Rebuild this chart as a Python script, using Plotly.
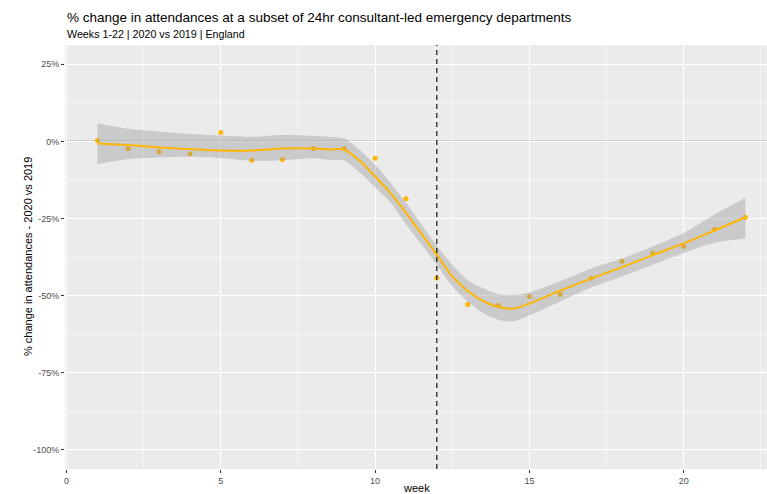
import plotly.graph_objects as go

# Weekly % change in attendances, 2020 vs 2019
weeks = list(range(1, 23))
pct_change = [0.3, -2.4, -3.4, -4.0, 2.9, -6.1, -5.9, -2.3, -2.3, -5.5, -18.6,
              -44.3, -52.9, -53.2, -50.3, -49.6, -44.4, -38.9, -36.2, -34.1, -28.5, -24.6]

# Smoothed trend with its confidence band
smooth_weeks = [1, 2, 3, 4, 5, 6, 7, 8, 8.5, 9, 9.5, 10, 10.5, 11,
                12, 12.5, 13, 13.5, 14, 14.5, 15, 16, 17, 18, 19, 20, 21, 22]
smooth_fit = [-0.7, -1.2, -2.0, -2.5, -3.0, -3.0, -2.3, -2.3, -2.6, -2.7, -6.3, -11.4, -16.8, -23.2,
              -36.8, -43.8, -48.5, -51.7, -53.7, -54.2, -52.6, -48.4, -44.5, -40.8, -36.9, -33.1, -28.9, -24.6]
smooth_upper = [5.9, 4.1, 3.2, 2.4, 1.9, 1.5, 2.1, 1.8, 1.5, 0.9, -2.8, -7.6, -13.4, -19.9,
                -33.8, -40.0, -45.0, -47.6, -49.5, -49.8, -49.0, -45.4, -41.2, -38.0, -34.0, -29.7, -23.7, -18.3]
smooth_lower = [-7.4, -5.7, -5.2, -5.0, -5.4, -6.3, -6.1, -5.5, -6.0, -6.2, -10.1, -14.9, -19.9, -26.9,
                -40.0, -47.0, -51.9, -55.7, -57.9, -58.3, -56.4, -51.9, -47.4, -43.8, -40.0, -36.2, -32.9, -31.5]

y_ticks = [25, 0, -25, -50, -75, -100]
y_tick_text = ["25%", "0%", "-25%", "-50%", "-75%", "-100%"]
x_ticks = [0, 5, 10, 15, 20]
lockdown_week = 12

GOLD = "#FFB600"
FONT = "Liberation Sans, Arial, sans-serif"

fig = go.Figure()

# observed points (drawn first so the band sits over them)
fig.add_trace(go.Scatter(
    x=weeks, y=pct_change, mode="markers",
    marker=dict(color=GOLD, size=5, line=dict(width=0)),
    hoverinfo="skip", showlegend=False))

# confidence band
fig.add_trace(go.Scatter(
    x=smooth_weeks, y=smooth_upper, mode="lines",
    line=dict(width=0, shape="spline", smoothing=0.8),
    hoverinfo="skip", showlegend=False))
fig.add_trace(go.Scatter(
    x=smooth_weeks, y=smooth_lower, mode="lines",
    line=dict(width=0, shape="spline", smoothing=0.8),
    fill="tonexty", fillcolor="rgba(153,153,153,0.4)",
    hoverinfo="skip", showlegend=False))

# smoothed trend line
fig.add_trace(go.Scatter(
    x=smooth_weeks, y=smooth_fit, mode="lines",
    line=dict(color=GOLD, width=2, shape="spline", smoothing=0.8),
    hoverinfo="skip", showlegend=False))

# reference lines
fig.add_shape(type="line", xref="paper", x0=0, x1=1, yref="y", y0=0, y1=0,
              line=dict(color="#7a7a7a", width=1.1), layer="below")
fig.add_shape(type="line", xref="x", x0=lockdown_week, x1=lockdown_week,
              yref="paper", y0=0, y1=1,
              line=dict(color="black", width=1.1, dash="5px,4px"), layer="above")

# titles
fig.add_annotation(text="% change in attendances at a subset of 24hr consultant-led emergency departments",
                   xref="paper", yref="paper", x=0.0, y=1.0653, xanchor="left", yanchor="middle",
                   showarrow=False, font=dict(family=FONT, size=13.5, color="black"))
fig.add_annotation(text="Weeks 1-22 | 2020 vs 2019 | England",
                   xref="paper", yref="paper", x=0.0, y=1.0252, xanchor="left", yanchor="middle",
                   showarrow=False, font=dict(family=FONT, size=10.7, color="black"))
fig.add_annotation(text="week", xref="paper", yref="paper", x=0.5, y=-0.0448,
                   xanchor="center", yanchor="middle", showarrow=False,
                   font=dict(family=FONT, size=11, color="black"))
fig.add_annotation(text="% change in attendances - 2020 vs 2019", xref="paper", yref="paper",
                   x=-0.0527, y=0.5, textangle=-90, xanchor="center", yanchor="middle",
                   showarrow=False, font=dict(family=FONT, size=11, color="black"))

fig.update_layout(
    width=767, height=494,
    margin=dict(l=65, r=0, t=45, b=25),
    paper_bgcolor="white", plot_bgcolor="#EBEBEB",
    font=dict(family=FONT),
    xaxis=dict(range=[-0.05, 22.7], tickvals=x_ticks, ticktext=[str(v) for v in x_ticks],
               showgrid=True, gridcolor="white", gridwidth=1.1, zeroline=False,
               ticks="outside", ticklen=3, tickcolor="#333333", tickwidth=1,
               tickfont=dict(family=FONT, size=9, color="#4D4D4D"),
               minor=dict(dtick=2.5, tick0=2.5, showgrid=True, gridcolor="#F5F5F5", gridwidth=0.6),
               showline=False, fixedrange=True),
    yaxis=dict(range=[-106.25, 31.25], tickvals=y_ticks, ticktext=y_tick_text,
               showgrid=True, gridcolor="white", gridwidth=1.1, zeroline=False,
               ticks="outside", ticklen=3, tickcolor="#333333", tickwidth=1,
               tickfont=dict(family=FONT, size=9, color="#4D4D4D"),
               minor=dict(dtick=25, tick0=12.5, showgrid=True, gridcolor="#F5F5F5", gridwidth=0.6),
               showline=False, fixedrange=True),
)

fig.write_html("out.html")
